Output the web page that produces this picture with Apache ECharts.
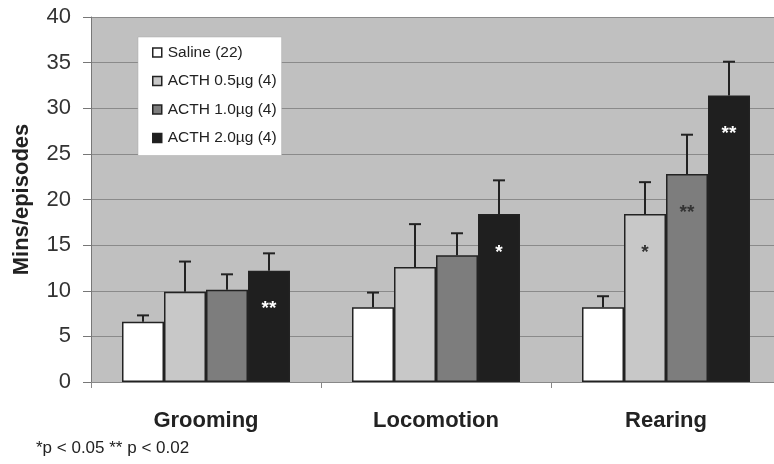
<!DOCTYPE html>
<html>
<head>
<meta charset="utf-8">
<script src="https://cdn.jsdelivr.net/npm/echarts@6/dist/echarts.min.js"></script>
<style>
  html, body { margin: 0; padding: 0; background: #fff; }
  #main { width: 774px; height: 464px; }
</style>
</head>
<body>
<div id="main"></div>
<script>
// data
const categories = ['Grooming', 'Locomotion', 'Rearing'];
const groupNames = ['Saline (22)', 'ACTH 0.5\u00b5g (4)', 'ACTH 1.0\u00b5g (4)', 'ACTH 2.0\u00b5g (4)'];
const saline = [6.6, 8.2, 8.2];
const salineErr = [0.7, 1.6, 1.2];
const acth05 = [9.9, 12.6, 18.4];
const acth05Err = [3.3, 4.7, 3.5];
const acth10 = [10.1, 13.9, 22.8];
const acth10Err = [1.7, 2.4, 4.3];
const acth20 = [12.2, 18.4, 31.4];
const acth20Err = [1.9, 3.7, 3.7];
const sig05 = ['', '', '*'];
const sig10 = ['', '', '**'];
const sig20 = ['**', '*', '**'];
const yTicks = [0, 5, 10, 15, 20, 25, 30, 35, 40];

const means = [saline, acth05, acth10, acth20];
const errs = [salineErr, acth05Err, acth10Err, acth20Err];
const sigs = [[], sig05, sig10, sig20];
const colors = ['#ffffff', '#c8c8c8', '#7d7d7d', '#1f1f1f'];
const starColors = ['#222', '#333', '#333', '#ffffff'];
const barW = 42;

let myChart = echarts.init(document.getElementById('main'));

let series = [];
means.forEach((vals, g) => {
    series.push({
        name: groupNames[g],
        type: 'bar',
        data: vals,
        barWidth: barW,
        barGap: '0%',
        itemStyle: { color: colors[g], borderColor: '#222', borderWidth: 1.5 },
        label: {
            show: true,
            position: 'insideTop',
            distance: 29,
            formatter: (p) => sigs[g][p.dataIndex] || '',
            color: starColors[g],
            fontSize: 19,
            fontWeight: 'bold',
            fontFamily: 'Liberation Sans'
        },
        emphasis: { disabled: true },
        z: 2
    });
});

// error bars (upper only), one custom series over all groups
let errData = [];
means.forEach((vals, g) => {
    vals.forEach((v, i) => errData.push([i, v, errs[g][i], g]));
});
series.push({
    type: 'custom',
    coordinateSystem: 'cartesian2d',
    encode: { x: 0, y: 1 },
    data: errData,
    z: 5,
    silent: true,
    renderItem: function (params, api) {
        const base = api.coord([api.value(0), api.value(1)]);
        const top = api.coord([api.value(0), api.value(1) + api.value(2)]);
        const x = base[0] + (api.value(3) - 1.5) * barW;
        const st = { stroke: '#222', lineWidth: 2 };
        return {
            type: 'group',
            children: [
                { type: 'line', shape: { x1: x, y1: base[1], x2: x, y2: top[1] }, style: st },
                { type: 'line', shape: { x1: x - 6, y1: top[1], x2: x + 6, y2: top[1] }, style: st }
            ]
        };
    }
});

let option = {
    animation: false,
    textStyle: { fontFamily: 'Liberation Sans' },
    grid: {
        left: 91, top: 17, right: -7, bottom: 82,
        outerBoundsMode: 'none',
        show: true, backgroundColor: '#c0c0c0', borderWidth: 0
    },
    legend: {
        orient: 'vertical',
        left: 138, top: 37,
        backgroundColor: '#ffffff',
        borderColor: '#aaa', borderWidth: 0.5,
        padding: [7, 5, 9, 14],
        itemWidth: 9, itemHeight: 9,
        itemGap: 11.5,
        icon: 'rect',
        data: groupNames,
        itemStyle: { borderColor: '#222', borderWidth: 1.5 },
        textStyle: { fontSize: 15.5, color: '#222', lineHeight: 17, padding: [0, 0, 0, 1] }
    },
    xAxis: {
        type: 'category',
        data: categories,
        axisLine: { lineStyle: { color: '#888', width: 1 } },
        axisTick: { show: true, length: 6, lineStyle: { color: '#888' } },
        axisLabel: { margin: 28, fontSize: 22, fontWeight: 'bold', color: '#222' }
    },
    yAxis: {
        type: 'value',
        min: 0, max: 40, interval: 5,
        name: 'Mins/episodes',
        nameLocation: 'middle',
        nameGap: 58,
        nameTextStyle: { fontSize: 22, fontWeight: 'bold', color: '#222' },
        axisLine: { show: true, lineStyle: { color: '#777', width: 1 } },
        axisTick: { show: true, length: 8, lineStyle: { color: '#777' } },
        axisLabel: {
            margin: 20, fontSize: 22, color: '#333',
            formatter: (v) => yTicks.indexOf(v) >= 0 ? String(v) : ''
        },
        splitLine: { lineStyle: { color: '#8a8a8a', width: 1 } }
    },
    graphic: [{
        type: 'text',
        left: 36, top: 440,
        style: { text: '*p < 0.05 ** p < 0.02', fontSize: 17, fill: '#222', fontFamily: 'Liberation Sans' }
    }],
    series: series
};

myChart.setOption(option);
</script>
</body>
</html>
